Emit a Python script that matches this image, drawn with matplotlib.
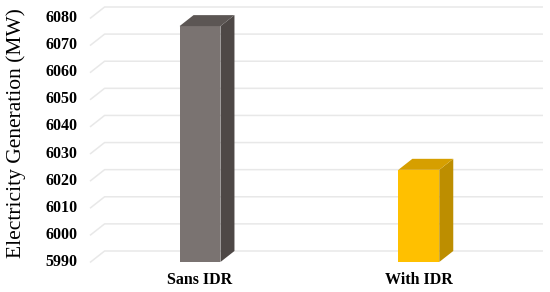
import matplotlib.pyplot as plt
from matplotlib.patches import Polygon

categories = ["Sans IDR", "With IDR"]
generation = [6077, 6024]
yticks = [5990, 6000, 6010, 6020, 6030, 6040, 6050, 6060, 6070, 6080]

front_cols = ["#7a7371", "#ffc000"]
side_cols = ["#4e4846", "#bd8e00"]
top_cols = ["#5c5654", "#d69f00"]

plt.rcParams['font.family'] = ['Liberation Serif', 'DejaVu Serif']

fig = plt.figure(figsize=(5.5, 2.92), dpi=100)
# axes = front plane of the 3d box
ax = fig.add_axes([90.6 / 550, 30 / 292, 437.6 / 550, 244 / 292])
ymin, ymax = 5990, 6080
ax.set_xlim(-0.5, 1.5)
ax.set_ylim(ymin, ymax)
ax.axis('off')

# depth offset (x in category units, y in MW)
dx, dy = 0.064, 4.06
w = 0.187

# gridlines: slanted floor edge + back wall line
for v in yticks:
    ax.plot([-0.5, -0.5 + dx, 1.5 + dx], [v, v + dy, v + dy],
            color="#e8e8e8", lw=1.1, clip_on=False, zorder=1)
    ax.annotate(str(v), xy=(-0.5, v), xytext=(-9.5, 0), textcoords='offset points',
                ha='right', va='center', fontsize=11.5, fontweight='bold')

for i, v in enumerate(generation):
    x0, x1 = i - w / 2, i + w / 2
    ax.bar(i, v - ymin, bottom=ymin, width=w, color=front_cols[i],
           zorder=3, clip_on=False)
    side = Polygon([(x1, ymin), (x1 + dx, ymin + dy), (x1 + dx, v + dy), (x1, v)],
                   closed=True, fc=side_cols[i], ec='none', zorder=3, clip_on=False)
    top = Polygon([(x0, v), (x1, v), (x1 + dx, v + dy), (x0 + dx, v + dy)],
                  closed=True, fc=top_cols[i], ec='none', zorder=3, clip_on=False)
    ax.add_patch(side)
    ax.add_patch(top)
    ax.text(i, ymin - 6.5, categories[i], ha='center', va='center',
            fontsize=11.5, fontweight='bold')

fig.text(16.5 / 550, 0.545, "Electricity Generation (MW)", rotation=90,
         ha='center', va='center', fontsize=15.5)

fig.savefig("out.png", dpi=100)
